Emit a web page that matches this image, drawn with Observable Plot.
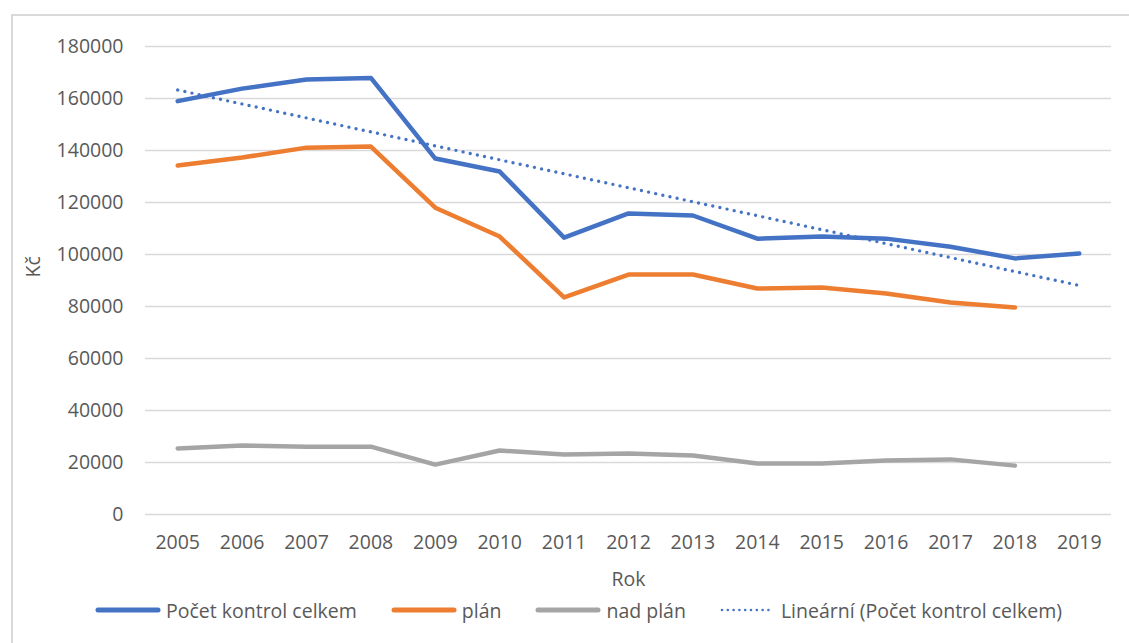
<!DOCTYPE html>
<html>
<head>
<meta charset="utf-8">
<script src="https://cdn.jsdelivr.net/npm/d3@7"></script>
<script src="https://cdn.jsdelivr.net/npm/@observablehq/plot@0.6"></script>
<style>
  html, body { margin: 0; padding: 0; background: #fff; }
  body { width: 1129px; height: 643px; position: relative; overflow: hidden; font-family: "Open Sans", sans-serif; }
  #frame { position: absolute; left: 11px; top: 14px; width: 1200px; height: 700px; border-left: 2px solid #d9d9d9; border-top: 2px solid #d9d9d9; box-sizing: border-box; }
  #chart { position: absolute; left: 0; top: 0; }
  #legend { position: absolute; left: 0; top: 595px; width: 1129px; height: 30px; padding-left: 28px; box-sizing: border-box; display: flex; justify-content: center; align-items: center; color: #595959; font-size: 19.5px; }
  .item { display: flex; align-items: center; margin: 0 17px; }
  .item svg { margin-right: 5px; }
</style>
</head>
<body>
<div id="frame"></div>
<div id="chart"></div>
<div id="legend"></div>
<script>
const years = [2005, 2006, 2007, 2008, 2009, 2010, 2011, 2012, 2013, 2014, 2015, 2016, 2017, 2018, 2019];
const celkem = [159000, 163800, 167300, 167900, 136900, 131900, 106500, 115800, 115000, 106100, 106900, 106100, 103000, 98500, 100400];
const plan = [134200, 137300, 141100, 141500, 118000, 106900, 83500, 92300, 92300, 86900, 87300, 85000, 81500, 79600, null];
const nadPlan = [25400, 26500, 26100, 26100, 19200, 24600, 23100, 23500, 22700, 19600, 19600, 20800, 21200, 18800, null];
const yTicks = [0, 20000, 40000, 60000, 80000, 100000, 120000, 140000, 160000, 180000];
const seriesNames = ["Počet kontrol celkem", "plán", "nad plán", "Lineární (Počet kontrol celkem)"];
const seriesColors = ["#4472C4", "#ED7D31", "#A5A5A5", "#4472C4"];

const rows = (vals, name) => years.map((y, i) => ({year: y, value: vals[i], series: name})).filter(d => d.value != null);
const dCelkem = rows(celkem, seriesNames[0]);
const dPlan = rows(plan, seriesNames[1]);
const dNad = rows(nadPlan, seriesNames[2]);

const textColor = "#595959";
const chart = Plot.plot({
  width: 1129,
  height: 598,
  marginLeft: 145,
  marginRight: 18,
  marginTop: 46,
  marginBottom: 84,
  style: {fontFamily: "'Open Sans', sans-serif", fontSize: "19.5px", color: textColor, background: "transparent"},
  x: {type: "linear", domain: [years[0] - 0.5, years[years.length - 1] + 0.5]},
  y: {domain: [0, 180000]},
  marks: [
    Plot.gridY(yTicks, {stroke: "#d9d9d9", strokeOpacity: 1, strokeWidth: 1.5}),
    Plot.axisY(yTicks, {tickSize: 0, tickPadding: 22, tickFormat: d => String(d), label: null, fill: textColor}),
    Plot.axisX(years, {tickSize: 0, tickPadding: 21, tickFormat: d => String(d), label: null, fill: textColor}),
    Plot.line(dCelkem, {x: "year", y: "value", stroke: seriesColors[0], strokeWidth: 4.5, strokeLinecap: "round", strokeLinejoin: "round"}),
    Plot.line(dPlan, {x: "year", y: "value", stroke: seriesColors[1], strokeWidth: 4.5, strokeLinecap: "round", strokeLinejoin: "round"}),
    Plot.line(dNad, {x: "year", y: "value", stroke: seriesColors[2], strokeWidth: 4.5, strokeLinecap: "round", strokeLinejoin: "round"}),
    Plot.linearRegressionY(dCelkem, {x: "year", y: "value", ci: 0, stroke: seriesColors[3], strokeWidth: 3.4, strokeDasharray: "0 7.3", strokeLinecap: "round"}),
    Plot.text(["Kč"], {frameAnchor: "left", dx: -112, dy: -3, rotate: -90, fill: textColor, fontSize: 19.5}),
    Plot.text(["Rok"], {frameAnchor: "bottom", dy: 71, fill: textColor, fontSize: 19.5})
  ]
});
document.getElementById("chart").appendChild(chart);

const legend = d3.select("#legend");
seriesNames.forEach((name, i) => {
  const item = legend.append("div").attr("class", "item");
  const dotted = i === 3;
  const w = dotted ? 56 : 66;
  const svg = item.append("svg").attr("width", w).attr("height", 12);
  svg.append("line").attr("x1", dotted ? 2 : 3).attr("x2", w - (dotted ? 2 : 3)).attr("y1", 6).attr("y2", 6)
    .attr("stroke", seriesColors[i]).attr("stroke-width", dotted ? 2.6 : 5)
    .attr("stroke-linecap", "round")
    .attr("stroke-dasharray", dotted ? "0 5.8" : null);
  item.append("span").text(name);
});
</script>
</body>
</html>
